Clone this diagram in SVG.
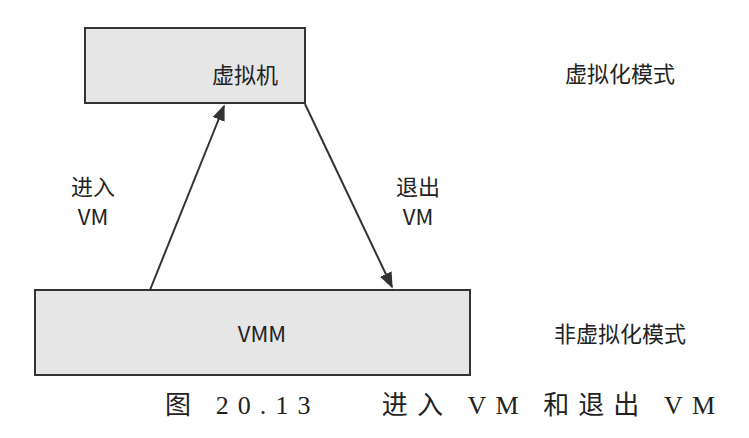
<svg xmlns="http://www.w3.org/2000/svg" width="749" height="438" viewBox="0 0 749 438">
<style>
.box{fill:#e6e6e6;stroke:#333;stroke-width:2}
.t{font-family:"Noto Sans CJK SC","Liberation Sans",sans-serif;font-size:22px;fill:#222;text-anchor:middle}
.c{font-family:"Liberation Serif","Noto Sans CJK SC",serif;font-size:26px;fill:#222}
.ln{stroke:#333;stroke-width:2;fill:none;marker-end:url(#ah)}
</style>
<defs><marker id="ah" viewBox="0 0 10 10" refX="9" refY="5" markerWidth="8" markerHeight="8" orient="auto"><path d="M0,1 L10,5 L0,9 z" fill="#333"/></marker></defs>
<rect width="749" height="438" fill="#fff"/>
<g id="vm"><rect class="box" x="85" y="28" width="220" height="75"/><text class="t" x="245" y="83">虚拟机</text></g>
<g id="vmm"><rect class="box" x="35" y="290" width="435" height="85"/><text class="t" x="262" y="342">VMM</text></g>
<g id="connectors">
<line class="ln" x1="150" y1="290" x2="224" y2="106"/>
<line class="ln" x1="305" y1="104" x2="392" y2="287"/>
</g>
<g id="labels">
<text class="t" x="93" y="195">进入</text><text class="t" x="93" y="225">VM</text>
<text class="t" x="418" y="195">退出</text><text class="t" x="418" y="225">VM</text>
<text class="t" x="620" y="82">虚拟化模式</text>
<text class="t" x="620" y="342">非虚拟化模式</text>
<text class="c" x="165" y="414" xml:space="preserve" textLength="550" lengthAdjust="spacing">图 20.13    进入 VM 和退出 VM</text>
</g>
</svg>
